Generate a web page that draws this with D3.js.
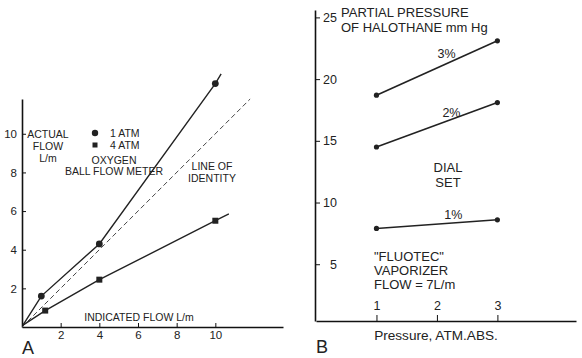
<!DOCTYPE html>
<html>
<head>
<meta charset="utf-8">
<script src="https://cdn.jsdelivr.net/npm/d3@7"></script>
<style>
  body { margin: 0; background: #fff; }
  svg { display: block; font-family: "Liberation Sans", Arial, sans-serif; }
  .axis path, .axis line { stroke: #111; }
  .axis text { fill: #222; }
</style>
</head>
<body>
<svg id="chart" width="582" height="358"></svg>
<script>
// Panel A: oxygen ball flow meter
const indicated1Atm = [1, 4, 10];
const actual1Atm = [1.6, 4.3, 12.6];
const indicated4Atm = [1.2, 4, 10];
const actual4Atm = [0.85, 2.45, 5.5];
const line1AtmEnds = [[0.05, 0.1], [10.3, 13.1]];
const line4AtmEnds = [[0.05, 0.1], [10.7, 5.86]];
const identityEnds = [[0, 0], [11.8, 11.8]];
const ticksA = [2, 4, 6, 8, 10];

// Panel B: Fluotec vaporizer
const pressures = [1, 3];
const dialSettings = ["3%", "2%", "1%"];
const halothane3 = [18.7, 23.1];
const halothane2 = [14.5, 18.1];
const halothane1 = [7.9, 8.6];
const ticksBx = [1, 2, 3];
const ticksBy = [5, 10, 15, 20, 25];

const svg = d3.select("#chart");

// ---------- panel A ----------
const xA = d3.scaleLinear().domain([0, 13.5]).range([22, 283]);
const yA = d3.scaleLinear().domain([0, 11.8]).range([327, 99]);

const gA = svg.append("g");

gA.append("g").attr("class", "axis")
  .attr("transform", `translate(0,${yA(0)})`)
  .call(d3.axisBottom(xA).tickValues(ticksA).tickSize(-4).tickSizeOuter(0).tickPadding(4))
  .call(g => g.select(".domain").attr("stroke-width", 1.6))
  .call(g => g.selectAll("text").attr("font-size", 11.5));

gA.append("g").attr("class", "axis")
  .attr("transform", `translate(${xA(0)},0)`)
  .call(d3.axisLeft(yA).tickValues(ticksA).tickSize(-4).tickSizeOuter(0).tickPadding(5))
  .call(g => g.select(".domain").attr("stroke-width", 1.6))
  .call(g => g.selectAll("text").attr("font-size", 11.5));

const lineA = d3.line().x(d => xA(d[0])).y(d => yA(d[1]));

const pts1 = indicated1Atm.map((v, i) => [v, actual1Atm[i]]);
const pts4 = indicated4Atm.map((v, i) => [v, actual4Atm[i]]);

gA.append("path")
  .attr("d", lineA(identityEnds))
  .attr("fill", "none").attr("stroke", "#333").attr("stroke-width", 0.9)
  .attr("stroke-dasharray", "5,3");

gA.append("path")
  .attr("d", lineA([line1AtmEnds[0], ...pts1, line1AtmEnds[1]]))
  .attr("fill", "none").attr("stroke", "#222").attr("stroke-width", 1.4);

gA.append("path")
  .attr("d", lineA([line4AtmEnds[0], ...pts4, line4AtmEnds[1]]))
  .attr("fill", "none").attr("stroke", "#222").attr("stroke-width", 1.4);

gA.selectAll("circle.atm1").data(pts1).join("circle")
  .attr("class", "atm1")
  .attr("cx", d => xA(d[0])).attr("cy", d => yA(d[1])).attr("r", 3.4)
  .attr("fill", "#222");

gA.selectAll("rect.atm4").data(pts4).join("rect")
  .attr("class", "atm4")
  .attr("x", d => xA(d[0]) - 3).attr("y", d => yA(d[1]) - 3)
  .attr("width", 6).attr("height", 6)
  .attr("fill", "#222");

// legend
gA.append("circle").attr("cx", 95).attr("cy", 133).attr("r", 3.2).attr("fill", "#222");
gA.append("rect").attr("x", 92.5).attr("y", 142.5).attr("width", 5).attr("height", 5).attr("fill", "#222");

const textA = [
  { t: "ACTUAL", x: 48, y: 138, a: "middle" },
  { t: "FLOW", x: 48, y: 150, a: "middle" },
  { t: "L/m", x: 48, y: 162, a: "middle" },
  { t: "1 ATM", x: 110, y: 137, a: "start" },
  { t: "4 ATM", x: 110, y: 149, a: "start" },
  { t: "OXYGEN", x: 114, y: 164, a: "middle" },
  { t: "BALL FLOW METER", x: 114, y: 175, a: "middle" },
  { t: "LINE OF", x: 212, y: 170, a: "middle" },
  { t: "IDENTITY", x: 212, y: 182, a: "middle" },
  { t: "INDICATED FLOW L/m", x: 139, y: 321, a: "middle" }
];
gA.selectAll("text.lbl").data(textA).join("text")
  .attr("class", "lbl")
  .attr("x", d => d.x).attr("y", d => d.y)
  .attr("text-anchor", d => d.a)
  .attr("font-size", 10.5).attr("fill", "#222")
  .text(d => d.t);

gA.append("text").attr("x", 22).attr("y", 354)
  .attr("font-size", 18).attr("fill", "#222").text("A");

// ---------- panel B ----------
const xB = d3.scaleLinear().domain([0, 4.3]).range([316, 576]);
const yB = d3.scaleLinear().domain([0.4, 25.6]).range([321, 10]);

const gB = svg.append("g");

gB.append("g").attr("class", "axis")
  .attr("transform", `translate(0,${yB(0.4)})`)
  .call(d3.axisTop(xB).tickValues(ticksBx).tickFormat(d3.format("d"))
    .tickSize(6).tickSizeOuter(0).tickPadding(5))
  .call(g => g.select(".domain").attr("stroke-width", 1.6))
  .call(g => g.selectAll("text").attr("font-size", 12.5));

gB.append("g").attr("class", "axis")
  .attr("transform", `translate(315,0)`)
  .call(d3.axisRight(yB).tickValues(ticksBy).tickSize(5).tickSizeOuter(0))
  .call(g => g.select(".domain").attr("stroke-width", 1.6))
  .call(g => g.selectAll("text").attr("font-size", 12.5)
    .attr("text-anchor", "end").attr("x", 22));

const seriesB = [halothane3, halothane2, halothane1].map((vals, i) => ({
  label: dialSettings[i],
  pts: pressures.map((p, j) => [p, vals[j]])
}));

const lineB = d3.line().x(d => xB(d[0])).y(d => yB(d[1]));

gB.selectAll("path.ser").data(seriesB).join("path")
  .attr("class", "ser")
  .attr("d", d => lineB(d.pts))
  .attr("fill", "none").attr("stroke", "#222").attr("stroke-width", 1.6);

gB.selectAll("g.dots").data(seriesB).join("g")
  .attr("class", "dots")
  .selectAll("circle").data(d => d.pts).join("circle")
  .attr("cx", d => xB(d[0])).attr("cy", d => yB(d[1])).attr("r", 2.6)
  .attr("fill", "#222");

// percent labels sit just over the middle of each line
const pctOffsets = [[0.16, 1.14], [0.24, 0.96], [0.27, 0.82]];
gB.selectAll("text.pct").data(seriesB).join("text")
  .attr("class", "pct")
  .attr("x", (d, i) => xB(2 + pctOffsets[i][0]))
  .attr("y", (d, i) => yB((d.pts[0][1] + d.pts[1][1]) / 2 + pctOffsets[i][1]) + 4.5)
  .attr("text-anchor", "middle").attr("font-size", 12.5).attr("fill", "#222")
  .text(d => d.label);

const textB = [
  { t: "PARTIAL PRESSURE", x: 341, y: 17, a: "start" },
  { t: "OF HALOTHANE mm Hg", x: 341, y: 32, a: "start" },
  { t: "DIAL", x: 448, y: 172, a: "middle" },
  { t: "SET", x: 448, y: 187, a: "middle" },
  { t: "\"FLUOTEC\"", x: 374, y: 261, a: "start" },
  { t: "VAPORIZER", x: 374, y: 275, a: "start" },
  { t: "FLOW = 7L/m", x: 374, y: 289, a: "start" }
];
gB.selectAll("text.lbl").data(textB).join("text")
  .attr("class", "lbl")
  .attr("x", d => d.x).attr("y", d => d.y)
  .attr("text-anchor", d => d.a)
  .attr("font-size", 13).attr("fill", "#222")
  .text(d => d.t);

gB.append("text").attr("x", 436).attr("y", 340)
  .attr("text-anchor", "middle").attr("font-size", 13.6).attr("fill", "#222")
  .text("Pressure, ATM.ABS.");

gB.append("text").attr("x", 316).attr("y", 353)
  .attr("font-size", 18).attr("fill", "#222").text("B");
</script>
</body>
</html>
